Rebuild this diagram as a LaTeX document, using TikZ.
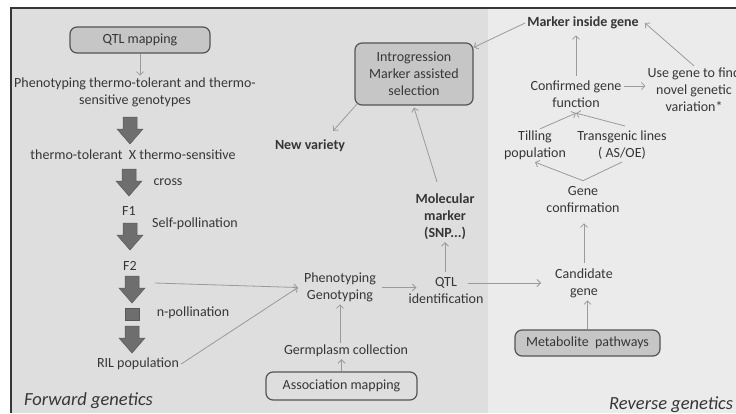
\documentclass[tikz,border=0pt]{standalone}
\usepackage{fontspec}
\setmainfont{Carlito}
\usetikzlibrary{arrows.meta}

\definecolor{panelL}{HTML}{DEDEDE}
\definecolor{panelR}{HTML}{EBEBEB}
\definecolor{ink}{HTML}{363636}
\definecolor{boxfill}{HTML}{C6C6C6}
\definecolor{linkgray}{HTML}{9A9A9A}
\definecolor{blockgray}{HTML}{6E6E6E}

\begin{document}
\begin{tikzpicture}[x=1pt,y=-1pt,
    txt/.style={text=ink,font=\fontsize{14}{17}\selectfont,align=center,inner sep=2pt},
    bold/.style={txt,font=\fontsize{14}{17}\selectfont\bfseries},
    side/.style={text=ink,font=\fontsize{18.5}{22}\selectfont\itshape,inner sep=0pt},
    box/.style={txt,draw=ink!85,fill=boxfill,rounded corners=7pt,line width=1.2pt},
    link/.style={-{Straight Barb[length=3.5pt,width=7pt]},draw=linkgray,line width=0.8pt},
    big/.style={fill=blockgray,draw=blockgray!80!black,line width=0.5pt}]
    \useasboundingbox (0,0) rectangle (736,413);
    \fill[white] (0,0) rectangle (736,413);
    \fill[panelL] (11,8) rectangle (488,413);
    \fill[panelR] (488,8) rectangle (736,413);
    \draw[ink,line width=1.5pt] (11,413) -- (11,8) -- (736,8);

    \node[box,minimum width=140pt,minimum height=26pt] (qtlmap) at (140,40) {QTL mapping};
    \node[txt] (pheno) at (135,92.5) {Phenotyping thermo-tolerant and thermo-\\sensitive genotypes};
    \node[txt] (parents) at (133,155) {thermo-tolerant\ \ X thermo-sensitive};
    \node[txt] (cross) at (168,182) {cross};
    \node[txt] (f1) at (129,211) {F1};
    \node[txt] (self) at (195,224) {Self-pollination};
    \node[txt] (f2) at (130,266) {F2};
    \node[txt] (npoll) at (193,313) {n-pollination};
    \node[txt] (ril) at (138,364) {RIL population};
    \node[side,anchor=west] (fwd) at (24,401) {Forward genetics};
    \coordinate (f2out) at (155,283);

    \foreach \X/\Top in {130/117,129/169,130/223,132/276,132/326}
        \filldraw[big] (\X-7,\Top) -- (\X+7,\Top) -- (\X+7,\Top+12) -- (\X+13,\Top+12)
            -- (\X,\Top+27) -- (\X-13,\Top+12) -- (\X-7,\Top+12) -- cycle;
    \filldraw[big] (125.5,308) rectangle (139.5,320);

    \node[txt] (phenogeno) at (340,287.5) {Phenotyping\\Genotyping};
    \node[txt] (germ) at (346,351) {Germplasm collection};
    \node[box,fill=panelL,minimum width=151pt,minimum height=28pt] (assoc) at (341.5,386) {Association mapping};
    \node[txt] (qtlid) at (446,291) {QTL\\identification};
    \node[bold] (molmark) at (445,217) {Molecular\\marker\\(SNP...)};
    \node[box,minimum width=118pt,minimum height=62pt] (introg) at (414,74) {Introgression\\Marker assisted\\selection};
    \node[bold] (newvar) at (310,146) {New variety};

    \node[bold] (markergene) at (583,23) {Marker inside gene};
    \node[txt] (confirmed) at (576,94.5) {Confirmed gene\\function};
    \node[txt] (usegene) at (694,90) {Use gene to find\\novel genetic\\variation*};
    \node[txt] (tilling) at (535,145.5) {Tilling\\population};
    \node[txt] (transgenic) at (622,145.5) {Transgenic lines\\( AS/OE)};
    \node[txt] (geneconf) at (583,200) {Gene\\confirmation};
    \node[txt] (candidate) at (584,283.5) {Candidate\\gene};
    \node[box,minimum width=145pt,minimum height=26pt] (metab) at (587.5,343) {Metabolite\ \ pathways};
    \node[side,anchor=west] (rev) at (609,405) {Reverse genetics};

    \draw[link] (qtlmap.south) -- (qtlmap.south |- pheno.north);
    \draw[link] (f2out) -- ([xshift=-4pt]phenogeno.west);
    \draw[link] (ril.east) -- ([xshift=-4pt]phenogeno.west);
    \draw[link] (phenogeno.south |- germ.north) -- (phenogeno.south);
    \draw[link] (assoc.north) -- (assoc.north |- germ.south);
    \draw[link] ([xshift=4pt]phenogeno.east) -- ([xshift=10pt]phenogeno.east -| qtlid.west);
    \draw[link] ([yshift=4pt]molmark.south |- qtlid.north) -- (molmark.south);
    \draw[link] ([shift={(-8pt,10pt)}]molmark.north) -- ([yshift=-2pt]introg.south);
    \draw[link] ([shift={(3pt,2pt)}]introg.south west) -- ([shift={(-14pt,7pt)}]newvar.north east);
    \draw[link] (markergene.west) -- ([yshift=-5pt]introg.north east);
    \draw[link] ([yshift=3pt]confirmed.north) -- ([yshift=-4pt]confirmed.north |- markergene.south);
    \draw[link] (usegene.north) -- ([xshift=4pt]markergene.east);
    \draw[link] ([yshift=8.5pt]confirmed.east) -- ([yshift=8.5pt]confirmed.east -| usegene.west);
    \draw[link] ([xshift=5pt]tilling.north) -- ([yshift=-3pt]confirmed.south);
    \draw[link] ([shift={(3pt,3pt)}]transgenic.north) -- ([yshift=-3pt]confirmed.south);
    \draw[link,{Straight Barb[length=3.5pt,width=7pt]}-] (tilling.south) -- ([yshift=4pt]geneconf.north) -- (transgenic.south);
    \draw[link] ([yshift=4pt]candidate.north) -- ([yshift=-8pt]candidate.north |- geneconf.south);
    \draw[link] ([shift={(-18pt,8pt)}]qtlid.east) -- ([shift={(-12pt,8pt)}]qtlid.east -| candidate.west);
    \draw[link] (metab.north) -- (metab.north |- candidate.south);
\end{tikzpicture}
\end{document}
